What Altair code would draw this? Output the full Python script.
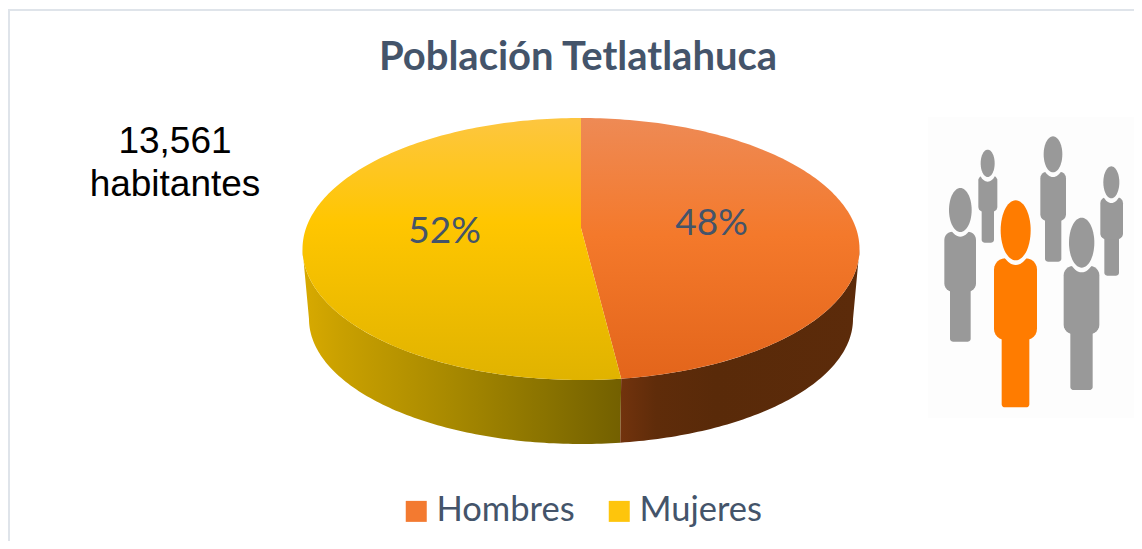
import math
import altair as alt
import pandas as pd

CATEGORIES = ["Hombres", "Mujeres"]
SHARES = [48, 52]
TOTAL_LINES = ["13,561", "habitantes"]
TITLE = "Población Tetlatlahuca"
INK = "#44546a"

# page-pixel drawing space
PX, PY = 8, 8
W, H = 1126, 533
X = alt.Scale(domain=[PX, PX + W], range=[0, W], nice=False, zero=False)
Y = alt.Scale(domain=[PY + H, PY], range=[H, 0], nice=False, zero=False)
xe = lambda f="x": alt.X(f"{f}:Q", scale=X, axis=None)
ye = lambda f="y": alt.Y(f"{f}:Q", scale=Y, axis=None)

TOP = dict(cx=581, cy=249, rx=278.5, ry=131)
BOT = dict(cx=581, cy=319, rx=272, ry=125)
APEX = (581, 228)
WARP = -1.1  # perspective shift of the slice boundary, degrees


def pt(e, deg):
    t = math.radians(deg)
    return e["cx"] + e["rx"] * math.sin(t), e["cy"] - e["ry"] * math.cos(t)


def angles(a, b):
    n = max(2, int(abs(b - a)) + 1)
    return [a + (b - a) * i / (n - 1) for i in range(n)]


def frame(points):
    return pd.DataFrame([{"x": p[0], "y": p[1], "i": i} for i, p in enumerate(points)])


def top_slice(a, b):
    return frame([APEX] + [pt(TOP, d) for d in angles(a, b)])


def wall(a, b):
    return frame([pt(TOP, d) for d in angles(a, b)] + [pt(BOT, d) for d in angles(b, a)])


def grad(stops, horizontal=False):
    return {
        "gradient": "linear",
        "x1": 0, "y1": 0,
        "x2": 1 if horizontal else 0,
        "y2": 0 if horizontal else 1,
        "stops": [{"offset": o, "color": c} for o, c in stops],
    }


def poly(df, fill):
    return alt.Chart(df).mark_line(fill=fill, strokeWidth=0, interpolate="linear").encode(
        x=xe(), y=ye(), order=alt.Order("i:Q")
    )


boundary = 360 * SHARES[0] / sum(SHARES) + WARP

layers = []

# border
layers.append(alt.Chart(pd.DataFrame({"x": [9], "y": [10], "y2": [541]})).mark_rule(color="#dfe4ea", strokeWidth=2)
              .encode(x=xe(), y=ye(), y2="y2:Q"))
layers.append(alt.Chart(pd.DataFrame({"x": [8], "x2": [1134], "y": [10]})).mark_rule(color="#dfe4ea", strokeWidth=2)
              .encode(x=xe(), x2="x2:Q", y=ye()))

# legend carrier, hidden behind the pie
layers.append(
    alt.Chart(pd.DataFrame({"cat": CATEGORIES, "x": [700, 450], "y": [250, 250]}))
    .mark_square(size=1, opacity=1)
    .encode(
        x=xe(), y=ye(),
        color=alt.Color(
            "cat:N",
            scale=alt.Scale(domain=CATEGORIES, range=["#f37a30", "#fec50c"]),
            legend=alt.Legend(
                title=None, orient="none", legendX=391, legendY=486, direction="horizontal",
                columns=2, symbolType="square", symbolSize=441, symbolStrokeWidth=0, symbolOpacity=1,
                labelFont="Lato", labelFontSize=34.5, labelColor=INK, labelOffset=3,
                columnPadding=27, symbolOffset=0,
            ),
        ),
    )
)

# walls
layers.append(poly(wall(270, boundary), grad(
    [(0, "#d8aa00"), (0.12, "#c9a000"), (0.45, "#a98a00"), (0.8, "#867000"), (1, "#736000")], True)))
layers.append(poly(wall(90, boundary), grad(
    [(0, "#72330d"), (0.15, "#5f2c0a"), (0.4, "#592a09"), (1, "#5c2b0a")], True)))

# top faces
layers.append(poly(top_slice(0, boundary), grad(
    [(0, "#ee8a55"), (0.45, "#f4792b"), (1, "#e3651b")])))
layers.append(poly(top_slice(boundary, 360), grad(
    [(0, "#fdc640"), (0.4, "#ffc600"), (1, "#e0b300")])))

# percent labels
layers.append(
    alt.Chart(pd.DataFrame({"x": [711.5, 444.5], "y": [224, 232], "t": [f"{s}%" for s in SHARES]}))
    .mark_text(font="Lato", fontSize=37, color=INK, baseline="middle", align="center")
    .encode(x=xe(), y=ye(), text="t:N")
)

# total inhabitants
layers.append(
    alt.Chart(pd.DataFrame({"x": [175, 175], "y": [153, 196], "t": TOTAL_LINES}))
    .mark_text(font="Liberation Sans", fontSize=37, color="#000000", baseline="alphabetic", align="center")
    .encode(x=xe(), y=ye(), text="t:N")
)

# people pictogram
layers.append(
    alt.Chart(pd.DataFrame({"x": [928], "x2": [1134], "y": [117], "y2": [418]}))
    .mark_rect(color="#fdfdfd").encode(x=xe(), x2="x2:Q", y=ye(), y2="y2:Q")
)

GRAY, ORANGE = "#999999", "#ff7c00"
# zoomed-crop units: head cx, cy, rx, ry, torso x0, x1, y0, y1, leg x0, x1, y1
PEOPLE = [
    (203, 160, 21, 41, 175, 232, 197, 305, 185, 222, 398, GRAY),
    (399, 133, 28, 54, 361, 438, 185, 333, 375, 424, 455, GRAY),
    (574, 217, 24, 48, 541, 609, 262, 388, 553, 597, 497, GRAY),
    (121, 300, 34, 66, 73, 168, 365, 545, 90, 152, 695, GRAY),
    (485, 398, 38, 75, 431, 538, 468, 672, 451, 518, 840, GRAY),
    (287, 361, 45, 90, 222, 351, 445, 690, 245, 328, 892, ORANGE),
]


def zx(v):
    return 920 + v / 3


def zy(v):
    return 110 + v / 3


def rrect(x0, x1, y0, y1, r):
    pts = []
    for cx, cy, a in [(x1 - r, y0 + r, 0), (x1 - r, y1 - r, 90), (x0 + r, y1 - r, 180), (x0 + r, y0 + r, 270)]:
        for d in range(a, a + 91, 15):
            t = math.radians(d)
            pts.append((cx + r * math.sin(t), cy - r * math.cos(t)))
    return pts


def ellipse(cx, cy, rx, ry):
    e = dict(cx=cx, cy=cy, rx=rx, ry=ry)
    return [pt(e, d) for d in range(0, 360, 6)]


rows = []
pid = 0


def add(points, col):
    global pid
    for i, (px, py) in enumerate(points):
        rows.append({"x": px, "y": py, "i": i, "id": pid, "col": col})
    pid += 1


for hx, hy, rx, ry, tx0, tx1, ty0, ty1, lx0, lx1, ly1, col in PEOPLE:
    add(rrect(zx(lx0), zx(lx1), zy(ty1 - 30), zy(ly1), 3), col)
    add(rrect(zx(tx0), zx(tx1), zy(ty0), zy(ty1), (tx1 - tx0) / 3 * 0.26), col)
    add(ellipse(zx(hx), zy(hy), (rx + 9) / 3, (ry + 14) / 3), "#fdfdfd")
    add(ellipse(zx(hx), zy(hy), rx / 3, ry / 3), col)

layers.append(
    alt.Chart(pd.DataFrame(rows)).mark_line(strokeWidth=0).encode(
        x=xe(), y=ye(), order=alt.Order("i:Q"), detail="id:N",
        fill=alt.Fill("col:N", scale=None),
    )
)

chart = alt.layer(*layers).properties(
    width=W, height=H, padding=0, autosize=alt.AutoSizeParams(type="none"),
    background="#ffffff",
    title=alt.TitleParams(
        TITLE, font="Lato", fontSize=40, fontWeight="bold", color=INK,
        anchor="start", frame="group", baseline="alphabetic", align="center",
        dx=570, dy=102, offset=0,
    ),
).configure_view(stroke=None)

chart.save("out.html", embed_options={"renderer": "svg", "actions": False})
